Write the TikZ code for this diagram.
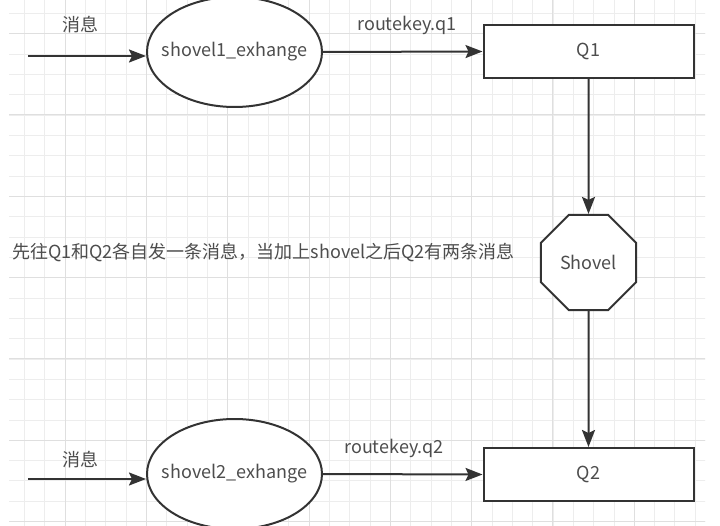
\documentclass[tikz,border=0pt]{standalone}
\usepackage{fontspec}
\setmainfont{Noto Sans CJK SC}
\usetikzlibrary{shapes.geometric,arrows.meta}

\definecolor{linegray}{HTML}{333333}
\definecolor{txtgray}{HTML}{4D4D4D}
\definecolor{gridminor}{HTML}{EDEDED}
\definecolor{gridmajor}{HTML}{DFDFDF}

\begin{document}
\begin{tikzpicture}[x=1pt,y=-1pt,
    every node/.style={text=txtgray,font=\fontsize{18}{21}\selectfont},
    flow/.style={draw=linegray,line width=2pt,-{Stealth[length=17pt,width=13pt,inset=3pt]}},
    exch/.style={ellipse,draw=linegray,line width=2pt,fill=white,
      minimum width=175pt,minimum height=110pt,inner xsep=-25pt,inner ysep=0pt},
    queue/.style={rectangle,draw=linegray,line width=2pt,fill=white,
      minimum width=210pt,minimum height=53pt,inner sep=0pt},
    shovelbox/.style={regular polygon,regular polygon sides=8,draw=linegray,
      line width=2pt,fill=white,minimum size=103pt,inner sep=0pt}]
  \useasboundingbox (0,0) rectangle (720,526);
  \fill[white] (0,0) rectangle (720,526);

  % Rejilla de fondo
  \begin{scope}
    \clip (9,0) rectangle (705,526);
    \foreach \i in {0,...,35} {
      \draw[gridminor,line width=1pt] (4.1+20.33*\i,0) -- (4.1+20.33*\i,526);
      \draw[gridminor,line width=1pt] (0,13.4+20.33*\i) -- (720,13.4+20.33*\i);
    }
    \foreach \i in {0,...,8} {
      \draw[gridmajor,line width=1pt] (65.1+81.3*\i,0) -- (65.1+81.3*\i,526);
      \draw[gridmajor,line width=1pt] (0,33.7+81.3*\i) -- (720,33.7+81.3*\i);
    }
  \end{scope}

  % Exchanges y colas
  \node[exch] (ex1) at (234.5,52) {shovel1\_exhange};
  \node[queue] (q1) at (588.5,51.5) {Q1};
  \node[shovelbox] (shovel) at (588.5,262.5) {Shovel};
  \node[exch] (ex2) at (234.5,474) {shovel2\_exhange};
  \node[queue] (q2) at (588.5,474.5) {Q2};

  % Textos
  \node (msg1) at (80,25) {消息};
  \node (rk1) at (407,25) {routekey.q1};
  \node[anchor=west,inner sep=0pt] (note) at (12,253) {先往Q1和Q2各自发一条消息，当加上shovel之后Q2有两条消息};
  \node (msg2) at (80,460) {消息};
  \node (rk2) at (394,448) {routekey.q2};

  % Flechas
  \coordinate (in1) at (28,56);
  \coordinate (in2) at (28,479);
  \draw[flow] (in1) -- (in1 -| ex1.west);
  \draw[flow] (ex1.east) -- (q1.west);
  \draw[flow] (q1.south) -- (shovel.north);
  \draw[flow] (shovel.south) -- (q2.north);
  \draw[flow] (in2) -- (in2 -| ex2.west);
  \draw[flow] (ex2.east) -- (q2.west);
\end{tikzpicture}
\end{document}
